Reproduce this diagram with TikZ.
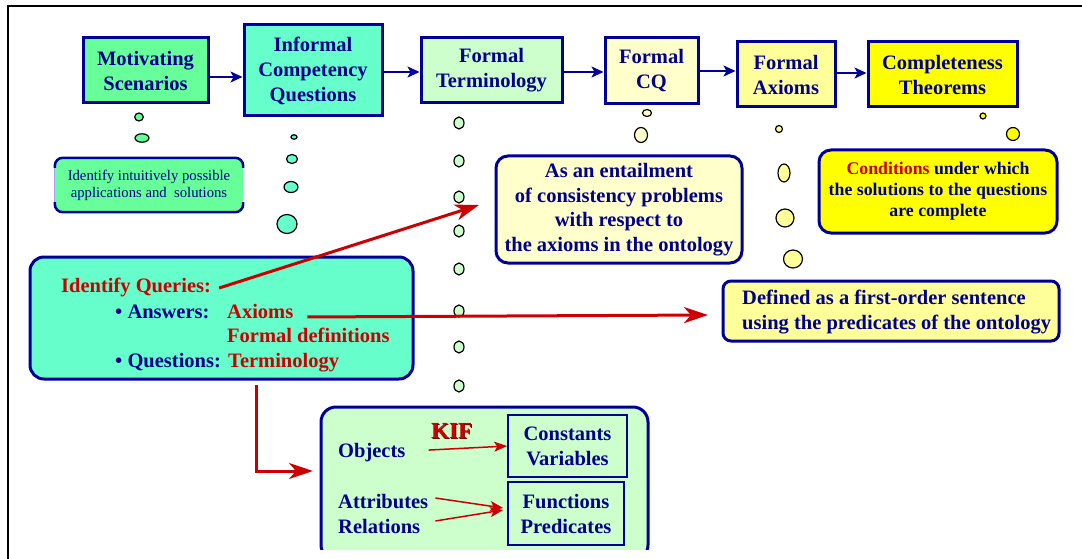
\documentclass[tikz,border=0pt]{standalone}
\usepackage{fontspec}
\setmainfont{Liberation Serif}
\usetikzlibrary{arrows.meta,shapes.geometric}

\definecolor{navyline}{RGB}{0,0,153}
\definecolor{navytext}{RGB}{0,0,140}
\definecolor{redtext}{RGB}{204,0,0}
\definecolor{kifshade}{RGB}{120,0,0}
\definecolor{msgreen}{HTML}{66FF99}
\definecolor{aqua}{HTML}{66FFCC}
\definecolor{palegreen}{HTML}{CCFFCC}
\definecolor{paleyellow}{HTML}{FFFFCC}
\definecolor{lightyellow}{HTML}{FFFF99}
\definecolor{brightyellow}{HTML}{FFFF00}
\definecolor{sideline}{RGB}{175,160,255}

\newcommand\fbig{\bfseries\fontsize{20.5}{25}\selectfont}
\newcommand\fmid{\bfseries\fontsize{17.8}{21}\selectfont}
\newcommand\fsmall{\fontsize{14.7}{17}\selectfont}

\begin{document}
\begin{tikzpicture}[x=1pt,y=-1pt,
  stagebox/.style={draw=navyline, line width=3pt, text=navytext, font=\fbig,
    align=center, inner sep=0pt},
  notebox/.style={draw=navyline, line width=3pt, text=navytext, align=center,
    inner sep=0pt, rounded corners=12pt},
  termbox/.style={draw=navyline, line width=1.6pt, text=navytext, font=\fbig,
    align=center, inner sep=0pt},
  bubble/.style={ellipse, draw=black, line width=1.2pt, inner sep=0pt},
  flow/.style={draw=navyline, line width=2pt,
    -{Stealth[length=12pt,width=11pt,inset=3pt]}},
  redarrow/.style={draw=redtext, line width=3pt, line join=miter,
    -{Stealth[length=24pt,width=16pt,inset=7pt]}},
  thinred/.style={draw=redtext, line width=1.5pt,
    -{Stealth[length=13pt,width=10pt,inset=3pt]}},
  lbl/.style={anchor=base west, inner sep=0pt, font=\fbig},
]
\useasboundingbox (0,0) rectangle (1082,559);

% frame
\draw[line width=2pt] (8,559) -- (8,6) -- (1082,6);

% ---- methodology stages ----
\node[stagebox, fill=msgreen, minimum width=125pt, minimum height=65pt]
  (ms) at (145.5,70.5) {Motivating\\Scenarios};
\node[stagebox, fill=aqua, minimum width=138pt, minimum height=91pt]
  (icq) at (313,70.5) {Informal\\Competency\\Questions};
\node[stagebox, fill=palegreen, minimum width=141pt, minimum height=65pt]
  (ft) at (491.5,70.5) {Formal\\Terminology};
\node[stagebox, fill=paleyellow, minimum width=93pt, minimum height=66pt]
  (fcq) at (651.5,71) {Formal\\CQ};
\node[stagebox, fill=lightyellow, minimum width=98pt, minimum height=65pt]
  (fax) at (786,74.5) {Formal\\Axioms};
\node[stagebox, fill=brightyellow, minimum width=149pt, minimum height=65pt]
  (ct) at (942.5,74.5) {Completeness\\Theorems};

\draw[flow] ([yshift=-6.5pt]ms.east) -- ([yshift=-6.5pt]icq.west);
\draw[flow] ([yshift=-1.5pt]icq.east) -- ([yshift=-1.5pt]ft.west);
\draw[flow] ([yshift=-1.5pt]ft.east) -- ([yshift=-1pt]fcq.west);
\draw[flow] (fcq.east) -- ([yshift=3.5pt]fax.west);
\draw[flow] ([yshift=1.5pt]fax.east) -- ([yshift=1.5pt]ct.west);

% ---- thought bubbles ----
\node[bubble, fill=msgreen, minimum width=8.6pt, minimum height=8pt] (msb1) at (139,117) {};
\node[bubble, fill=msgreen, minimum width=14pt, minimum height=8.4pt] (msb2) at (142,138) {};

\node[bubble, fill=aqua, minimum width=6pt, minimum height=4.4pt] (icqb1) at (294,137) {};
\node[bubble, fill=aqua, minimum width=11pt, minimum height=9pt] (icqb2) at (292,159) {};
\node[bubble, fill=aqua, minimum width=14pt, minimum height=11pt] (icqb3) at (291,187) {};
\node[bubble, fill=aqua, minimum width=20pt, minimum height=19pt] (icqb4) at (287,224) {};

\foreach \yy [count=\i] in {123,161,197,231,269,311,347,386}
  \node[bubble, fill=palegreen, minimum width=10pt, minimum height=12pt] (ftb\i) at (459,\yy) {};

\node[bubble, fill=paleyellow, minimum width=9pt, minimum height=7pt] (fcqb1) at (647,113) {};
\node[bubble, fill=paleyellow, minimum width=13pt, minimum height=15pt] (fcqb2) at (641,135) {};

\node[bubble, fill=lightyellow, minimum width=7pt, minimum height=7pt] (faxb1) at (779,129) {};
\node[bubble, fill=lightyellow, minimum width=12pt, minimum height=18pt] (faxb2) at (784,173) {};
\node[bubble, fill=lightyellow, minimum width=18pt, minimum height=18pt] (faxb3) at (785,218) {};
\node[bubble, fill=lightyellow, minimum width=19pt, minimum height=18pt] (faxb4) at (793,259) {};

\node[bubble, fill=brightyellow, minimum width=6pt, minimum height=6pt] (ctb1) at (983,116) {};
\node[bubble, fill=brightyellow, minimum width=13pt, minimum height=13pt] (ctb2) at (1013,134) {};

% ---- notes ----
\node[fill=msgreen, minimum width=188pt, minimum height=54pt, inner sep=0pt,
  rounded corners=8pt, text=navytext, font=\fsmall, align=center]
  (intu) at (149,185) {Identify intuitively possible\\applications and\ \ solutions};
\draw[sideline, line width=0.8pt] ([yshift=-8pt]intu.north west) -- ([yshift=8pt]intu.south west);
\draw[navyline, line width=2.5pt, rounded corners=8pt]
  ([yshift=-10pt]intu.north west) -- (intu.north west) -- (intu.north east) -- ([yshift=-10pt]intu.north east);
\draw[navyline, line width=2.5pt, rounded corners=8pt]
  ([yshift=10pt]intu.south west) -- (intu.south west) -- (intu.south east) -- ([yshift=10pt]intu.south east);

\node[notebox, fill=paleyellow, minimum width=246pt, minimum height=107pt,
  font=\bfseries\fontsize{20.5}{24.7}\selectfont]
  (ent) at (619,209.5) {As an entailment\\of consistency problems\\with respect to\\the axioms in the ontology};

\node[notebox, fill=brightyellow, minimum width=238pt, minimum height=83pt, font=\fmid]
  (cond) at (938,191.5) {{\color{redtext}Conditions} under which\\the solutions to the questions\\are complete};

\node[notebox, fill=lightyellow, minimum width=336pt, minimum height=60pt,
  rounded corners=8pt] (def) at (891,311) {};
\node[lbl, text=navytext] (def1) at (742,304) {Defined as a first-order sentence};
\node[lbl, text=navytext] (def2) at (742,329) {using the predicates of the ontology};

% ---- queries ----
\node[notebox, fill=aqua, minimum width=383pt, minimum height=122pt,
  rounded corners=14pt] (iq) at (221.5,318) {};
\node[lbl, text=redtext] (iqtitle) at (61,292) {Identify Queries:};
\node[lbl, text=navytext] (ans) at (115,318) {• Answers:};
\node[lbl, text=redtext] (axm) at (227,318) {Axioms};
\node[lbl, text=redtext] (fdef) at (227,342) {Formal definitions};
\node[lbl, text=navytext] (qst) at (115,367) {• Questions:};
\node[lbl, text=redtext] (trm) at (228,367) {Terminology};

% ---- KIF vocabulary ----
\begin{scope}
  \clip (300,400) rectangle (660,549);
  \node[notebox, fill=palegreen, minimum width=327pt, minimum height=153pt,
    rounded corners=15pt] (kb) at (484.5,483.5) {};
\end{scope}
\node[termbox, minimum width=119pt, minimum height=62pt] (cv) at (567.5,446) {Constants\\Variables};
\node[termbox, minimum width=116pt, minimum height=63pt] (fp) at (566,513.5) {Functions\\Predicates};
\node[lbl, text=navytext] (obj) at (338,457) {Objects};
\node[lbl, text=navytext] (attr) at (338,508) {Attributes};
\node[lbl, text=navytext] (rel) at (338,533) {Relations};
\node[lbl, text=kifshade, font=\bfseries\fontsize{23}{25}\selectfont] (kifs) at (432,439.5) {KIF};
\node[lbl, text=redtext, font=\bfseries\fontsize{23}{25}\selectfont] (kif) at (431,438) {KIF};

\draw[thinred] ([xshift=23pt,yshift=2pt]obj.east) -- (cv.west);
\draw[thinred] ([xshift=7pt,yshift=3pt]attr.east) -- ([xshift=-4pt,yshift=5.5pt]fp.west);
\draw[thinred] ([xshift=15pt,yshift=5pt]rel.east) -- ([xshift=-4pt,yshift=3.5pt]fp.west);

% ---- red links ----
\coordinate (entin) at (479,205);
\coordinate (defin) at (708,315);
\coordinate (kbin) at (313,471);
\draw[redarrow] ([xshift=8pt,yshift=-1pt]iqtitle.east) -- (entin);
\draw[redarrow] ([xshift=14pt,yshift=-6pt]axm.east) -- (defin);
\draw[redarrow] ([xshift=34.5pt,yshift=-4pt]iq.south) |- (kbin);

\end{tikzpicture}
\end{document}
